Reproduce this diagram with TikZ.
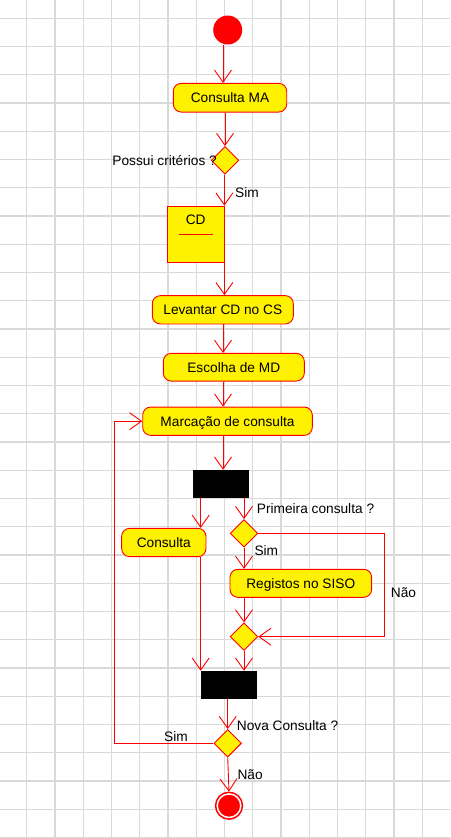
\documentclass[tikz,border=0pt]{standalone}
\usepackage{fontspec}
\setmainfont{Liberation Sans}
\usetikzlibrary{shapes.geometric,arrows.meta}

\begin{document}
\begin{tikzpicture}[
        x=1pt, y=-1pt,
        every node/.style={font=\fontsize{13.7}{16}\selectfont},
        initial/.style={circle, fill=red, minimum size=29pt, inner sep=0pt},
        final/.style={circle, draw=red, fill=red, double=white, double distance=1.5pt, line width=1.6pt, minimum size=23.6pt, inner sep=0pt, outer sep=2.3pt},
        action/.style={rectangle, rounded corners=8pt, draw=red, fill=yellow, line width=0.9pt, text height=9.8pt, text depth=0pt, inner sep=0pt},
        objbox/.style={rectangle, draw=red, fill=yellow, line width=0.9pt, inner sep=0pt},
        decision/.style={diamond, aspect=1, draw=red, fill=yellow, line width=0.9pt, minimum size=27.6pt, inner sep=0pt},
        syncbar/.style={rectangle, fill=black, inner sep=0pt},
        lbl/.style={inner sep=0pt},
        link/.style={draw=red, line width=0.9pt},
        flow/.style={link, -{Straight Barb[length=12pt,width=17pt]}},
        gridline/.style={draw=black!15, line width=1.2pt}
    ]

    % --- Background grid ---
    \useasboundingbox (0,0) rectangle (450,838);
    \fill[white] (0,0) rectangle (450,838);
    \foreach \k in {0,...,14}
        \draw[gridline] ({26.7+28.25*\k},0) -- ++(0,838);
    \foreach \k in {0,...,29}
        \draw[gridline] (0,{18.3+28.25*\k}) -- ++(450,0);

    % --- Columns for the connectors ---
    \coordinate (trunk) at (223,0);
    \coordinate (branch) at (200.7,0);
    \coordinate (left) at (114,0);
    \coordinate (right) at (384.3,0);

    % --- Activities ---
    \node[initial] (start) at (227.7,30) {};
    \node[action, minimum width=113.4pt, minimum height=28.7pt] (ma) at (230,97.7) {Consulta MA};
    \node[decision] (d1) at (225,160.3) {};
    \node[objbox, minimum width=56.3pt, minimum height=56.3pt] (cd) at (195.8,234.2) {};
    \node[lbl] (cdname) at (195.7,219.5) {CD};
    \draw[link] ([xshift=-17.2pt,yshift=-15pt]cdname.center) -- ++(34.4,0);
    \node[action, minimum width=141pt, minimum height=28.3pt] (lev) at (222.8,309.8) {Levantar CD no CS};
    \node[action, minimum width=141pt, minimum height=27.7pt] (esc) at (233.8,367.2) {Escolha de MD};
    \node[action, minimum width=169.6pt, minimum height=28.3pt] (mar) at (227.5,421.2) {Marcação de consulta};
    \node[syncbar, minimum width=56.3pt, minimum height=27.7pt] (fork) at (220.8,483.8) {};
    \node[action, minimum width=84.3pt, minimum height=28.3pt] (cons) at (163.8,542.5) {Consulta};
    \node[decision] (d2) at (244,533.3) {};
    \node[action, minimum width=141.7pt, minimum height=28pt] (reg) at (300.8,583.3) {Registos no SISO};
    \node[decision] (d3) at (244,636.7) {};
    \node[syncbar, minimum width=56.6pt, minimum height=27.7pt] (join) at (229,684.8) {};
    \node[decision] (d4) at (227.7,743.3) {};
    \node[final] (end) at (229,805.7) {};

    % --- Flows ---
    \draw[flow] (start.south -| trunk) -- (ma.north -| trunk);
    \draw[flow] (ma.south -| d1.north) -- (d1.north);
    \draw[flow] (d1.south -| cd.east) -- (cd.north east);
    \draw[flow] (cd.south east) -- (cd.south east |- lev.north);
    \draw[flow] (lev.south -| trunk) -- (esc.north -| trunk);
    \draw[flow] (esc.south -| trunk) -- (mar.north -| trunk);
    \draw[flow] (mar.south -| trunk) -- (fork.north -| trunk);
    \draw[flow] (fork.south -| branch) -- (cons.north -| branch);
    \draw[flow] (fork.south -| d2.north) -- (d2.north);
    \draw[flow] (d2.south) -- (d2.south |- reg.north);
    \draw[flow] (d3.north |- reg.south) -- (d3.north);
    \draw[flow] (d2.east) -- (d2.east -| right) -- (d3.east -| right) -- (d3.east);
    \draw[flow] (cons.south -| branch) -- (join.north -| branch);
    \draw[flow] (d3.south) -- (d3.south |- join.north);
    \draw[flow] (join.south -| d4.north) -- (d4.north);
    \draw[flow] (d4.west) -- (d4.west -| left) -- (mar.west -| left) -- (mar.west);
    \draw[flow] (d4.south) -- (end.north);

    % --- Guards ---
    \node[lbl, anchor=base east] (q1) at (217,165.7) {Possui critérios ?};
    \node[lbl, anchor=base west] (sim1) at (235,197.3) {Sim};
    \node[lbl, anchor=base west] (q2) at (256.7,513.3) {Primeira consulta ?};
    \node[lbl, anchor=base west] (sim2) at (254.3,555) {Sim};
    \node[lbl, anchor=base west] (nao1) at (390.7,597.3) {Não};
    \node[lbl, anchor=base west] (q3) at (236.7,730.7) {Nova Consulta ?};
    \node[lbl, anchor=base west] (sim3) at (164,741) {Sim};
    \node[lbl, anchor=base west] (nao2) at (237.3,779.3) {Não};

\end{tikzpicture}
\end{document}
